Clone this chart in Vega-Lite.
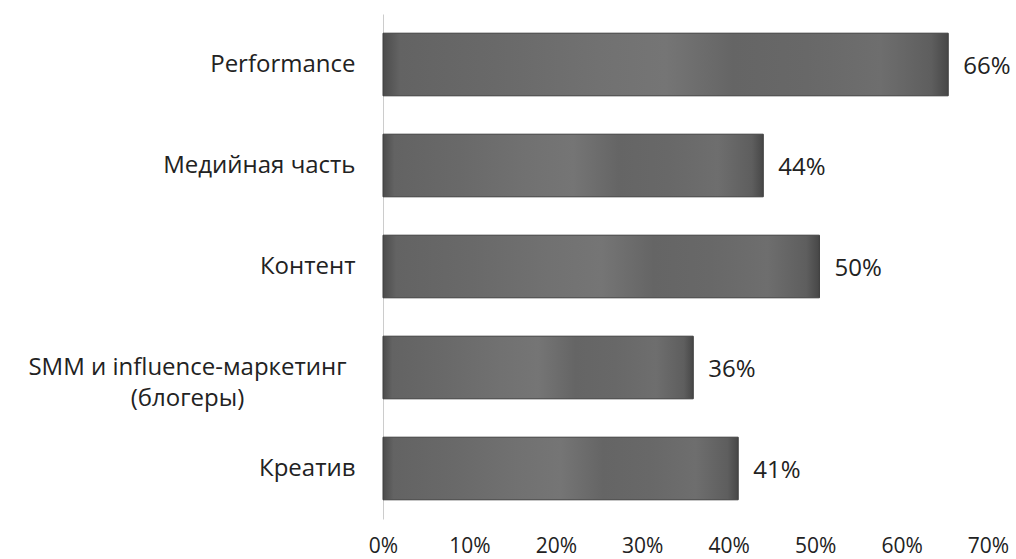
{
  "$schema": "https://vega.github.io/schema/vega-lite/v6.json",
  "autosize": "none",
  "width": 605,
  "height": 505,
  "padding": {"left": 383, "top": 14, "right": 28, "bottom": 40},
  "background": "white",
  "config": {"view": {"stroke": null}, "font": "Open Sans"},
  "data": {"values": [
    {"category": "Performance", "value": 0.654, "label": "66%"},
    {"category": "Медийная часть", "value": 0.44, "label": "44%"},
    {"category": "Контент", "value": 0.505, "label": "50%"},
    {"category": "SMM и influence-маркетинг\n(блогеры)", "value": 0.359, "label": "36%"},
    {"category": "Креатив", "value": 0.411, "label": "41%"}
  ]},
  "encoding": {
    "y": {"field": "category", "type": "nominal", "sort": null,
      "scale": {"paddingInner": 0.38, "paddingOuter": 0.19},
      "axis": {"title": null, "ticks": false,
        "labelPadding": {"condition": {"test": "datum.value > 'S' && datum.value < 'T'", "value": 196}, "value": 28},
        "labelAlign": {"condition": {"test": "datum.value > 'S' && datum.value < 'T'", "value": "center"}, "value": "right"},
        "labelFontSize": 24,
        "labelColor": "#222222", "labelFont": "Open Sans", "domainColor": "#cccccc", "domainWidth": 1,
        "labelExpr": "split(datum.label, '\\n')", "labelLineHeight": 31, "labelLimit": 500}},
    "x": {"field": "value", "type": "quantitative",
      "scale": {"domain": [0, 0.7], "nice": false},
      "axis": {"title": null, "format": ".0%", "values": [0, 0.1, 0.2, 0.3, 0.4, 0.5, 0.6, 0.7],
        "ticks": false, "domain": false, "grid": false, "labelPadding": 16, "labelFontSize": 21,
        "labelColor": "#222222", "labelFont": "Open Sans", "labelFlush": false}}
  },
  "layer": [
    {"mark": {"type": "bar", "stroke": "#3e3e3e", "strokeWidth": 1,
      "color": {"gradient": "linear", "x1": 0, "y1": 0, "x2": 1, "y2": 0,
        "stops": [
          {"offset": 0, "color": "#4c4c4c"},
          {"offset": 0.03, "color": "#636363"},
          {"offset": 0.2, "color": "#696969"},
          {"offset": 0.38, "color": "#717171"},
          {"offset": 0.5, "color": "#757575"},
          {"offset": 0.62, "color": "#656565"},
          {"offset": 0.75, "color": "#686868"},
          {"offset": 0.88, "color": "#6e6e6e"},
          {"offset": 0.97, "color": "#5e5e5e"},
          {"offset": 1, "color": "#474747"}
        ]}}},
    {"mark": {"type": "text", "align": "left", "baseline": "middle", "dx": 15, "dy": 2, "fontSize": 24,
      "color": "#222222", "font": "Open Sans"},
      "encoding": {"text": {"field": "label"}}}
  ]
}
